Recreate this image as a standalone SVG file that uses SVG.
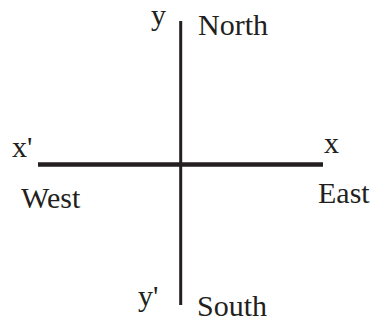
<svg xmlns="http://www.w3.org/2000/svg" width="377" height="322" viewBox="0 0 377 322">
<style>
.t{font-family:"Liberation Serif","Times New Roman",serif;font-size:30px;fill:#231f20}
.ax{stroke:#231f20;fill:none}
</style>
<rect width="377" height="322" fill="#fff"/>
<g id="connectors">
<line class="ax" x1="180.7" y1="21" x2="180.7" y2="305" stroke-width="3"/>
<line class="ax" x1="38" y1="164.5" x2="323" y2="164.5" stroke-width="4.5"/>
</g>
<g id="north"><text class="t" x="198" y="35">North</text></g>
<g id="y"><text class="t" x="151" y="25">y</text></g>
<g id="xprime"><text class="t" x="12" y="157">x'</text></g>
<g id="x"><text class="t" x="324" y="153">x</text></g>
<g id="west"><text class="t" x="21" y="208">West</text></g>
<g id="east"><text class="t" x="318" y="203">East</text></g>
<g id="yprime"><text class="t" x="138" y="306">y'</text></g>
<g id="south"><text class="t" x="197" y="316">South</text></g>
</svg>
